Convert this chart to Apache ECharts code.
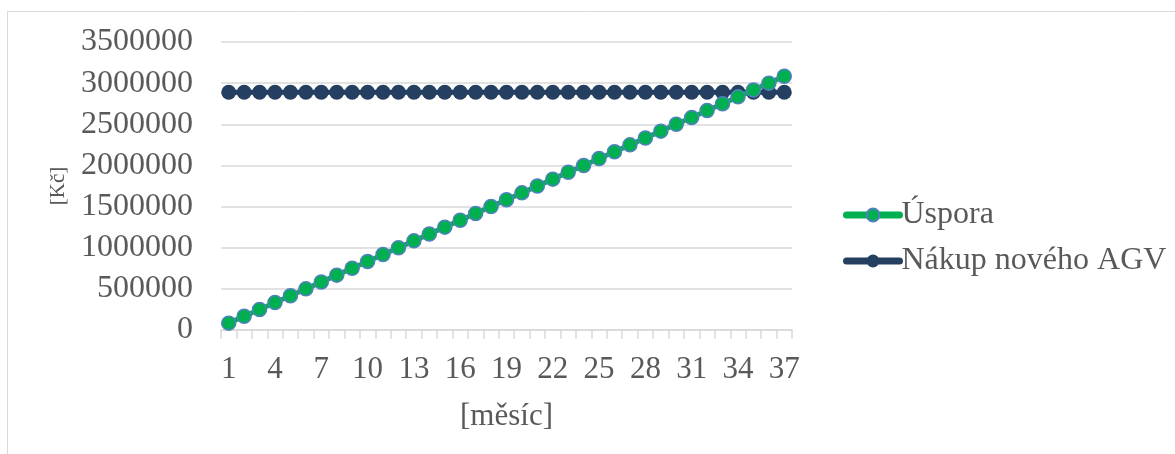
<!DOCTYPE html>
<html><head><meta charset="utf-8">
<script src="https://cdn.jsdelivr.net/npm/echarts@6/dist/echarts.min.js"></script>
<style>html,body{margin:0;padding:0;background:#fff}#c{width:1175px;height:454px}</style>
</head><body><div id="c"></div>
<script>
const months = ['1','2','3','4','5','6','7','8','9','10','11','12','13','14','15','16','17','18','19','20','21','22','23','24','25','26','27','28','29','30','31','32','33','34','35','36','37'];
const uspora = [83333,166667,250000,333333,416667,500000,583333,666667,750000,833333,916667,1000000,1083333,1166667,1250000,1333333,1416667,1500000,1583333,1666667,1750000,1833333,1916667,2000000,2083333,2166667,2250000,2333333,2416667,2500000,2583333,2666667,2750000,2833333,2916667,3000000,3083333];
const nakup = [2890000,2890000,2890000,2890000,2890000,2890000,2890000,2890000,2890000,2890000,2890000,2890000,2890000,2890000,2890000,2890000,2890000,2890000,2890000,2890000,2890000,2890000,2890000,2890000,2890000,2890000,2890000,2890000,2890000,2890000,2890000,2890000,2890000,2890000,2890000,2890000,2890000];
const seriesNames = ['Úspora','Nákup nového AGV'];

const font = '"Liberation Serif", "Times New Roman", serif';
const txt = '#595959';
const chart = echarts.init(document.getElementById('c'));
chart.setOption({
  animation:false,
  graphic:[{type:'rect',shape:{x:7.5,y:11.5,width:1300,height:600},style:{fill:'none',stroke:'#d9d9d9',lineWidth:1}}],
  grid:{left:221,right:383,top:42,bottom:124},
  legend:{
    orient:'vertical', left:838, top:194, itemGap:14, itemWidth:53, itemHeight:16,
    textStyle:{fontFamily:font,fontSize:32,color:txt,padding:[0,0,0,-3]},
    data:[
      {name:seriesNames[0], lineStyle:{width:7,cap:'round'}},
      {name:seriesNames[1], lineStyle:{width:7,cap:'round'}}
    ]
  },
  xAxis:{
    type:'category', data:months, boundaryGap:true,
    name:'[měsíc]', nameLocation:'middle', nameGap:71,
    nameTextStyle:{fontFamily:font,fontSize:31,color:txt},
    axisLine:{lineStyle:{color:'#d9d9d9',width:1.5}},
    axisTick:{show:true,alignWithLabel:false,interval:0,length:9,lineStyle:{color:'#d9d9d9',width:1.5}},
    axisLabel:{interval:2,fontFamily:font,fontSize:31,color:txt,margin:24}
  },
  yAxis:{
    type:'value', min:0, max:3500000, interval:500000,
    name:'[Kč]', nameLocation:'middle', nameGap:152, nameRotate:90,
    nameTextStyle:{fontFamily:font,fontSize:21,color:txt},
    axisLine:{show:false}, axisTick:{show:false},
    splitLine:{lineStyle:{color:'#d9d9d9',width:1.5}},
    axisLabel:{fontFamily:font,fontSize:32,color:txt,margin:28,formatter:function(v){return String(v);}}
  },
  series:[
    {name:seriesNames[0],type:'line',data:uspora,symbol:'circle',symbolSize:14,showAllSymbol:true,z:3,
     lineStyle:{color:'#00b050',width:5},
     itemStyle:{color:'#00b050',borderColor:'#4f81bd',borderWidth:1.5}},
    {name:seriesNames[1],type:'line',data:nakup,symbol:'circle',symbolSize:15,showAllSymbol:true,z:2,
     lineStyle:{color:'#243f60',width:5},
     itemStyle:{color:'#243f60',borderWidth:0}}
  ]
});
</script></body></html>
